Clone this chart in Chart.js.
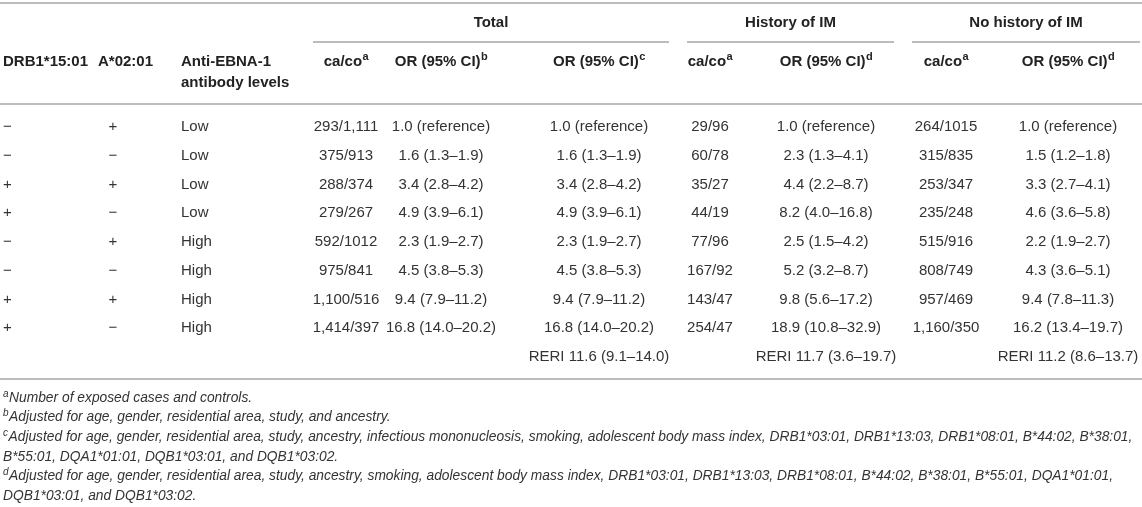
<!DOCTYPE html>
<html>
<head>
<meta charset="utf-8">
<script src="https://cdn.jsdelivr.net/npm/chart.js@4.4.1/dist/chart.umd.min.js"></script>
<style>
  html, body { margin: 0; padding: 0; background: #fff; }
  #wrap { width: 1142px; height: 507px; position: relative; }
</style>
</head>
<body>
<div id="wrap"><canvas id="tabela"></canvas></div>
<script>
// dados da tabela
const drb1 = ['−', '−', '+', '+', '−', '−', '+', '+'];
const a0201 = ['+', '−', '+', '−', '+', '−', '+', '−'];
const ebna = ['Low', 'Low', 'Low', 'Low', 'High', 'High', 'High', 'High'];

const totalCaCo = ['293/1,111', '375/913', '288/374', '279/267', '592/1012', '975/841', '1,100/516', '1,414/397'];
const totalOrB = ['1.0 (reference)', '1.6 (1.3–1.9)', '3.4 (2.8–4.2)', '4.9 (3.9–6.1)', '2.3 (1.9–2.7)', '4.5 (3.8–5.3)', '9.4 (7.9–11.2)', '16.8 (14.0–20.2)'];
const totalOrC = ['1.0 (reference)', '1.6 (1.3–1.9)', '3.4 (2.8–4.2)', '4.9 (3.9–6.1)', '2.3 (1.9–2.7)', '4.5 (3.8–5.3)', '9.4 (7.9–11.2)', '16.8 (14.0–20.2)'];

const histCaCo = ['29/96', '60/78', '35/27', '44/19', '77/96', '167/92', '143/47', '254/47'];
const histOr = ['1.0 (reference)', '2.3 (1.3–4.1)', '4.4 (2.2–8.7)', '8.2 (4.0–16.8)', '2.5 (1.5–4.2)', '5.2 (3.2–8.7)', '9.8 (5.6–17.2)', '18.9 (10.8–32.9)'];

const noHistCaCo = ['264/1015', '315/835', '253/347', '235/248', '515/916', '808/749', '957/469', '1,160/350'];
const noHistOr = ['1.0 (reference)', '1.5 (1.2–1.8)', '3.3 (2.7–4.1)', '4.6 (3.6–5.8)', '2.2 (1.9–2.7)', '4.3 (3.6–5.1)', '9.4 (7.8–11.3)', '16.2 (13.4–19.7)'];

const reri = ['RERI 11.6 (9.1–14.0)', 'RERI 11.7 (3.6–19.7)', 'RERI 11.2 (8.6–13.7)'];

const grupos = ['Total', 'History of IM', 'No history of IM'];

const notas = [
    ['a', 'Number of exposed cases and controls.'],
    ['b', 'Adjusted for age, gender, residential area, study, and ancestry.'],
    ['c', 'Adjusted for age, gender, residential area, study, ancestry, infectious mononucleosis, smoking, adolescent body mass index, DRB1*03:01, DRB1*13:03, DRB1*08:01, B*44:02, B*38:01,'],
    ['', 'B*55:01, DQA1*01:01, DQB1*03:01, and DQB1*03:02.'],
    ['d', 'Adjusted for age, gender, residential area, study, ancestry, smoking, adolescent body mass index, DRB1*03:01, DRB1*13:03, DRB1*08:01, B*44:02, B*38:01, B*55:01, DQA1*01:01,'],
    ['', 'DQB1*03:01, and DQB1*03:02.']
];

// layout (pixels do canvas)
const FONTE = '"Liberation Sans", Arial, Helvetica, sans-serif';
const linhaTopo = 127;
const passoLinha = 28.75;
const yLinha = (i) => linhaTopo + i * passoLinha;

const colunas = [
    { valores: drb1, x: 3, align: 'left', titulo: [['DRB1*15:01']] },
    { valores: a0201, x: 113, align: 'center', titulo: [['A*02:01']], tituloX: 98 },
    { valores: ebna, x: 181, align: 'left', titulo: [['Anti-EBNA-1'], ['antibody levels']] },
    { valores: totalCaCo, x: 346, align: 'center', titulo: [['ca/co', 'a']] },
    { valores: totalOrB, x: 441, align: 'center', titulo: [['OR (95% CI)', 'b']] },
    { valores: totalOrC, x: 599, align: 'center', titulo: [['OR (95% CI)', 'c']] },
    { valores: histCaCo, x: 710, align: 'center', titulo: [['ca/co', 'a']] },
    { valores: histOr, x: 826, align: 'center', titulo: [['OR (95% CI)', 'd']] },
    { valores: noHistCaCo, x: 946, align: 'center', titulo: [['ca/co', 'a']] },
    { valores: noHistOr, x: 1068, align: 'center', titulo: [['OR (95% CI)', 'd']] }
];
const gruposX = [[313, 669], [687, 894], [912, 1140]];

const datasets = colunas.map(c => ({
    data: c.valores.map((v, i) => ({ x: c.x, y: yLinha(i) })),
    textos: c.valores,
    align: c.align,
    pointRadius: 0
}));
datasets.push({
    data: [5, 7, 9].map(k => ({ x: colunas[k].x, y: yLinha(8) })),
    textos: reri,
    align: 'center',
    pointRadius: 0
});

function textoSup(ctx, partes, x, y, align, peso, tam) {
    ctx.font = peso + ' ' + tam + 'px ' + FONTE;
    const w1 = ctx.measureText(partes[0]).width;
    let w2 = 0;
    if (partes[1]) {
        ctx.font = peso + ' ' + (tam - 4) + 'px ' + FONTE;
        w2 = ctx.measureText(partes[1]).width;
    }
    let x0 = x;
    if (align === 'center') x0 = x - (w1 + w2) / 2;
    ctx.textAlign = 'left';
    ctx.textBaseline = 'middle';
    ctx.font = peso + ' ' + tam + 'px ' + FONTE;
    ctx.fillText(partes[0], x0, y);
    if (partes[1]) {
        ctx.font = peso + ' ' + (tam - 4) + 'px ' + FONTE;
        ctx.fillText(partes[1], x0 + w1 + 0.5, y - 5);
    }
}

const tabelaPlugin = {
    id: 'tabela',
    afterDraw(chart) {
        const ctx = chart.ctx;
        const sx = chart.scales.x, sy = chart.scales.y;
        const px = v => sx.getPixelForValue(v);
        const py = v => sy.getPixelForValue(v);

        ctx.save();
        // regras
        ctx.strokeStyle = '#a6a6a6';
        ctx.lineWidth = 1.5;
        const regra = (y, a, b) => {
            ctx.beginPath();
            ctx.moveTo(px(a), py(y));
            ctx.lineTo(px(b), py(y));
            ctx.stroke();
        };
        regra(3, 0, 1142);
        regra(104, 0, 1142);
        regra(379, 0, 1142);
        gruposX.forEach(g => regra(42, g[0], g[1]));

        // cabecalho
        ctx.fillStyle = '#222';
        grupos.forEach((g, i) => {
            textoSup(ctx, [g], px((gruposX[i][0] + gruposX[i][1]) / 2), py(23), 'center', 'bold', 15);
        });
        colunas.forEach(c => {
            c.titulo.forEach((t, j) => {
                const xt = c.tituloX !== undefined ? c.tituloX : c.x;
                const al = c.tituloX !== undefined ? 'left' : c.align;
                textoSup(ctx, t, px(xt), py(62 + j * 21), al, 'bold', 15);
            });
        });

        // celulas
        ctx.fillStyle = '#333';
        chart.data.datasets.forEach((ds, d) => {
            const meta = chart.getDatasetMeta(d);
            meta.data.forEach((pt, i) => {
                textoSup(ctx, [ds.textos[i]], pt.x, pt.y, ds.align, 'normal', 15);
            });
        });

        // notas de rodape
        notas.forEach((n, i) => {
            const y = py(398 + i * 19.6);
            ctx.textBaseline = 'middle';
            ctx.textAlign = 'left';
            let x0 = px(3);
            if (n[0]) {
                ctx.font = 'italic 10px ' + FONTE;
                ctx.fillText(n[0], x0, y - 4);
                x0 += ctx.measureText(n[0]).width + 0.5;
            }
            ctx.font = 'italic 13.8px ' + FONTE;
            ctx.fillText(n[1], x0, y);
        });
        ctx.restore();
    }
};

new Chart(document.getElementById('tabela'), {
    type: 'scatter',
    data: { datasets: datasets },
    options: {
        responsive: true,
        maintainAspectRatio: false,
        animation: false,
        layout: { padding: 0 },
        plugins: { legend: { display: false }, tooltip: { enabled: false } },
        scales: {
            x: { type: 'linear', min: 0, max: 1142, display: false },
            y: { type: 'linear', min: 0, max: 507, reverse: true, display: false }
        }
    },
    plugins: [tabelaPlugin]
});
</script>
</body>
</html>
